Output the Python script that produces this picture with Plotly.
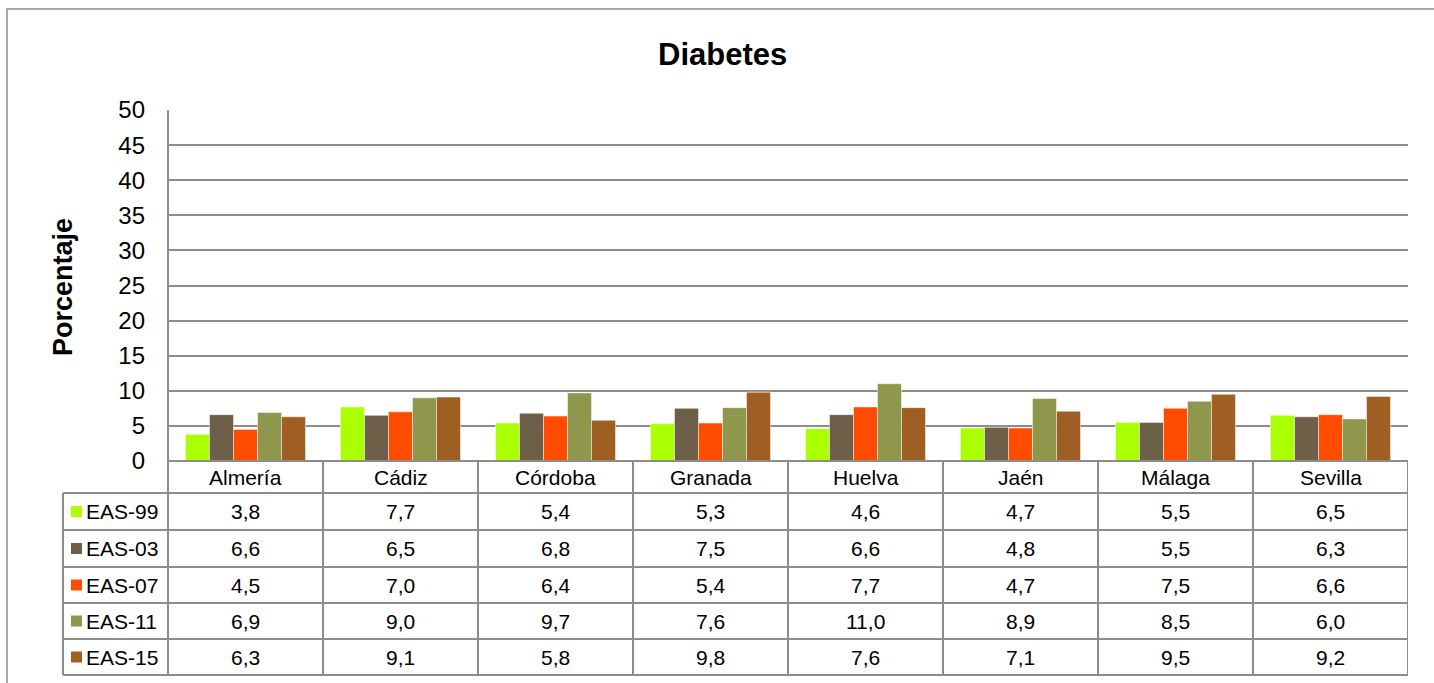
import plotly.graph_objects as go

categories = ["Almería", "Cádiz", "Córdoba", "Granada", "Huelva", "Jaén", "Málaga", "Sevilla"]
series_names = ["EAS-99", "EAS-03", "EAS-07", "EAS-11", "EAS-15"]
eas99 = [3.8, 7.7, 5.4, 5.3, 4.6, 4.7, 5.5, 6.5]
eas03 = [6.6, 6.5, 6.8, 7.5, 6.6, 4.8, 5.5, 6.3]
eas07 = [4.5, 7.0, 6.4, 5.4, 7.7, 4.7, 7.5, 6.6]
eas11 = [6.9, 9.0, 9.7, 7.6, 11.0, 8.9, 8.5, 6.0]
eas15 = [6.3, 9.1, 5.8, 9.8, 7.6, 7.1, 9.5, 9.2]
series_values = [eas99, eas03, eas07, eas11, eas15]
colors = ["#AAFF00", "#6E5F48", "#FF4C00", "#8F974C", "#A05F22"]

W, H = 1434, 683
def px(x):
    return x / W
def py(y):
    return 1 - y / H

FONT = "Liberation Sans, Arial, sans-serif"
LINE = "#8C8C8C"

fig = go.Figure()
xs = list(range(len(categories)))
for name, vals, col in zip(series_names, series_values, colors):
    fig.add_trace(go.Bar(x=xs, y=vals, name=name,
                         marker=dict(color=col, line=dict(width=0.8, color="rgba(255,255,255,0.6)")),
                         showlegend=False, hoverinfo="y"))

shapes = []
annotations = []
# outer chart border
shapes.append(dict(type="rect", xref="paper", yref="paper", x0=px(7), x1=1.05, y0=-0.05, y1=py(9),
                   line=dict(color="#8C8C8C", width=1.5), layer="below"))

# table geometry (pixels)
table_left = 63
plot_left, plot_right = 168, 1408
header_top, header_bot = 461, 493
row_edges = [493, 530, 567, 603, 639, 675]

shapes.append(dict(type="line", xref="paper", yref="paper", x0=px(plot_left), x1=px(plot_right),
                   y0=py(header_top), y1=py(header_top), line=dict(color=LINE, width=2)))
for ye in row_edges:
    shapes.append(dict(type="line", xref="paper", yref="paper", x0=px(table_left), x1=px(plot_right),
                       y0=py(ye), y1=py(ye), line=dict(color=LINE, width=2)))
shapes.append(dict(type="line", xref="paper", yref="paper", x0=px(table_left), x1=px(table_left),
                   y0=py(row_edges[0]), y1=py(row_edges[-1]), line=dict(color=LINE, width=2)))
shapes.append(dict(type="line", xref="paper", yref="paper", x0=px(plot_left), x1=px(plot_left),
                   y0=py(110), y1=py(row_edges[-1]), line=dict(color=LINE, width=2)))
for i in range(1, len(categories) + 1):
    shapes.append(dict(type="line", xref="x", yref="paper", x0=i - 0.5, x1=i - 0.5,
                       y0=py(header_top), y1=py(row_edges[-1]), line=dict(color=LINE, width=2)))

for i, c in enumerate(categories):
    annotations.append(dict(x=i, y=py((header_top + header_bot) / 2), xref="x", yref="paper", text=c,
                            showarrow=False, xanchor="center", yanchor="middle",
                            font=dict(family=FONT, size=21, color="#000")))
for r, (name, vals, col) in enumerate(zip(series_names, series_values, colors)):
    yc = py((row_edges[r] + row_edges[r + 1]) / 2)
    for i, v in enumerate(vals):
        annotations.append(dict(x=i, y=yc, xref="x", yref="paper", text=f"{v:.1f}".replace(".", ","),
                                showarrow=False, xanchor="center", yanchor="middle",
                                font=dict(family=FONT, size=21, color="#000")))
    shapes.append(dict(type="rect", xref="paper", yref="paper", x0=px(71), x1=px(82),
                       y0=yc - 5.5 / H, y1=yc + 5.5 / H, fillcolor=col, line=dict(width=0)))
    annotations.append(dict(x=px(84), y=yc, xref="paper", yref="paper", text=name, xanchor="left",
                            yanchor="middle", showarrow=False, font=dict(family=FONT, size=21, color="#000")))

annotations.append(dict(x=px(723), y=py(55), xref="paper", yref="paper", text="<b>Diabetes</b>",
                        showarrow=False, xanchor="center", yanchor="middle",
                        font=dict(family=FONT, size=31, color="#000")))
annotations.append(dict(x=px(63), y=py(287), xref="paper", yref="paper", text="<b>Porcentaje</b>",
                        textangle=-90, showarrow=False, xanchor="center", yanchor="middle",
                        font=dict(family=FONT, size=27, color="#000")))

fig.update_layout(
    width=W, height=H,
    margin=dict(l=0, r=0, t=0, b=0, autoexpand=False),
    paper_bgcolor="white", plot_bgcolor="white",
    barmode="group", bargap=0.226, bargroupgap=0,
    shapes=shapes, annotations=annotations,
    xaxis=dict(domain=[px(plot_left), px(plot_right)], range=[-0.5, len(categories) - 0.5],
               showticklabels=False, showgrid=False, zeroline=False, showline=False, ticks="",
               automargin=False, fixedrange=True),
    yaxis=dict(domain=[py(461), py(110)], range=[0, 50], dtick=5, showgrid=True,
               gridcolor="#8C8C8C", gridwidth=1.5, zeroline=False, showline=False, ticks="",
               ticklabelstandoff=22, automargin=False, fixedrange=True,
               tickfont=dict(family=FONT, size=24, color="#000")),
)

fig.write_html("out.html", config={"displayModeBar": False},
               post_script="document.body.style.margin='0px';document.body.style.overflow='hidden';")
